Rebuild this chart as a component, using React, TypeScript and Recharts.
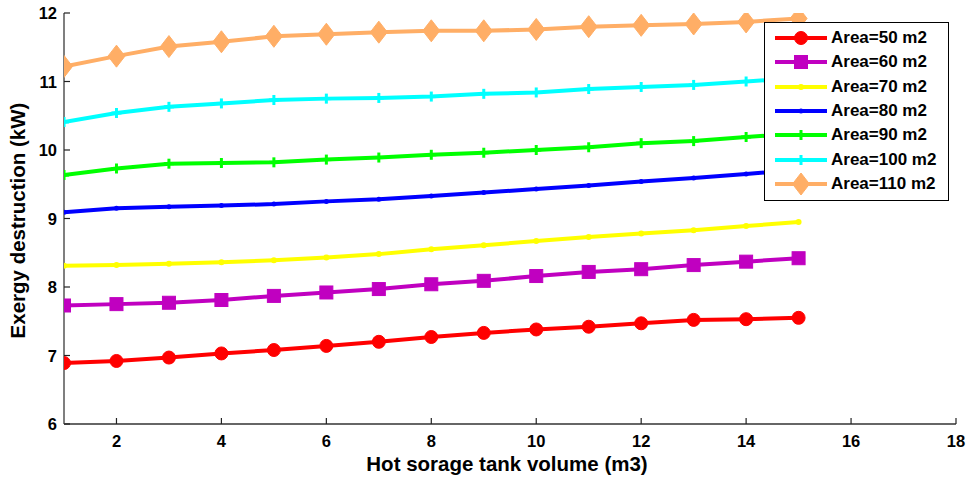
import React from 'react';
import { LineChart, Line, XAxis, YAxis, Legend } from 'recharts';

const volumes = [1, 2, 3, 4, 5, 6, 7, 8, 9, 10, 11, 12, 13, 14, 15];
const area50 = [6.89, 6.92, 6.97, 7.03, 7.08, 7.14, 7.2, 7.27, 7.33, 7.38, 7.42, 7.47, 7.52, 7.53, 7.55];
const area60 = [7.73, 7.75, 7.77, 7.81, 7.87, 7.92, 7.97, 8.04, 8.09, 8.16, 8.22, 8.26, 8.32, 8.37, 8.42];
const area70 = [8.31, 8.32, 8.34, 8.36, 8.39, 8.43, 8.48, 8.55, 8.61, 8.67, 8.73, 8.78, 8.83, 8.89, 8.95];
const area80 = [9.09, 9.15, 9.17, 9.19, 9.21, 9.25, 9.28, 9.33, 9.38, 9.43, 9.48, 9.54, 9.59, 9.65, 9.71];
const area90 = [9.635, 9.73, 9.8, 9.81, 9.82, 9.86, 9.89, 9.93, 9.96, 10.0, 10.04, 10.1, 10.13, 10.19, 10.24];
const area100 = [10.41, 10.54, 10.63, 10.68, 10.73, 10.75, 10.76, 10.78, 10.82, 10.84, 10.89, 10.92, 10.95, 11.0, 11.05];
const area110 = [11.22, 11.37, 11.51, 11.58, 11.66, 11.69, 11.72, 11.74, 11.74, 11.76, 11.8, 11.82, 11.84, 11.87, 11.92];

const xTicks = [2, 4, 6, 8, 10, 12, 14, 16, 18];
const yTicks = [6, 7, 8, 9, 10, 11, 12];

const seriesNames = ['Area=50 m2', 'Area=60 m2', 'Area=70 m2', 'Area=80 m2', 'Area=90 m2', 'Area=100 m2', 'Area=110 m2'];
const seriesKeys = ['a50', 'a60', 'a70', 'a80', 'a90', 'a100', 'a110'];
const seriesValues = [area50, area60, area70, area80, area90, area100, area110];
const seriesColors = ['#FF0000', '#C000C0', '#FFFF00', '#0000FF', '#00FF00', '#00FFFF', '#FFAE66'];
const seriesMarkers = ['circle', 'square', 'dot', 'smalldot', 'plus', 'plus', 'diamond'];

const data = volumes.map((v, i) => {
  const row: any = { x: v };
  seriesKeys.forEach((k, j) => {
    row[k] = seriesValues[j][i];
  });
  return row;
});

const FONT = "'Liberation Sans', Arial, sans-serif";

function Marker({ shape, color, cx, cy }: { shape: string; color: string; cx: number; cy: number }) {
  switch (shape) {
    case 'circle':
      return <circle cx={cx} cy={cy} r={6.5} fill={color} stroke={color} />;
    case 'square':
      return <rect x={cx - 6.5} y={cy - 6.5} width={13} height={13} fill={color} stroke={color} />;
    case 'dot':
      return <circle cx={cx} cy={cy} r={3} fill={color} />;
    case 'smalldot':
      return <circle cx={cx} cy={cy} r={2.5} fill={color} />;
    case 'plus':
      return (
        <g>
          <line x1={cx - 5} x2={cx + 5} y1={cy} y2={cy} stroke={color} strokeWidth={3} />
          <line x1={cx} x2={cx} y1={cy - 5} y2={cy + 5} stroke={color} strokeWidth={3} />
        </g>
      );
    case 'diamond':
      return (
        <polygon
          points={`${cx},${cy - 11} ${cx + 8.5},${cy} ${cx},${cy + 11} ${cx - 8.5},${cy}`}
          fill={color}
          stroke={color}
        />
      );
    default:
      return null;
  }
}

const makeDot = (shape: string, color: string) => (props: any) => {
  const { cx, cy, index } = props;
  if (cx == null || cy == null) return <g key={`d${index}`} />;
  return (
    <g key={`d${index}`}>
      <Marker shape={shape} color={color} cx={cx} cy={cy} />
    </g>
  );
};

const XTick = (props: any) => {
  const { x, y, payload } = props;
  return (
    <g>
      <line x1={x} x2={x} y1={y} y2={y - 6} stroke="#222" strokeWidth={1.2} />
      <text x={x} y={y + 23} textAnchor="middle" fontFamily={FONT} fontWeight="bold" fontSize={16.5} fill="#000">
        {payload.value}
      </text>
    </g>
  );
};

const YTick = (props: any) => {
  const { x, y, payload } = props;
  return (
    <g>
      <line x1={x} x2={x + 6} y1={y} y2={y} stroke="#222" strokeWidth={1.2} />
      <text x={x - 7} y={y + 6} textAnchor="end" fontFamily={FONT} fontWeight="bold" fontSize={16.5} fill="#000">
        {payload.value}
      </text>
    </g>
  );
};

const XTitle = (props: any) => {
  const vb = props.viewBox;
  return (
    <text
      x={vb.x + vb.width / 2 - 3}
      y={vb.y + 47}
      textAnchor="middle"
      fontFamily={FONT}
      fontWeight="bold"
      fontSize={20.5}
      fill="#000"
    >
      Hot sorage tank volume (m3)
    </text>
  );
};

const YTitle = (props: any) => {
  const vb = props.viewBox;
  const x = vb.x + 11;
  const y = vb.y + vb.height / 2 + 2;
  return (
    <text
      x={x}
      y={y}
      transform={`rotate(-90, ${x}, ${y})`}
      textAnchor="middle"
      fontFamily={FONT}
      fontWeight="bold"
      fontSize={20.5}
      fill="#000"
    >
      Exergy destruction (kW)
    </text>
  );
};

const renderLegend = () => (
  <div
    style={{
      border: '1.5px solid #000',
      background: '#fff',
      width: 183,
      height: 174,
      boxSizing: 'content-box',
      paddingTop: 3,
      fontFamily: FONT,
    }}
  >
    {seriesNames.map((name, i) => (
      <div key={name} style={{ display: 'flex', alignItems: 'center', height: 24.3 }}>
        <svg width={66} height={24} style={{ display: 'block' }}>
          <line x1={10} x2={62} y1={12} y2={12} stroke={seriesColors[i]} strokeWidth={4} />
          <Marker shape={seriesMarkers[i]} color={seriesColors[i]} cx={36} cy={12} />
        </svg>
        <span style={{ fontWeight: 'bold', fontSize: 17, color: '#000', whiteSpace: 'nowrap' }}>{name}</span>
      </div>
    ))}
  </div>
);

export default function App() {
  return (
    <div style={{ position: 'absolute', left: 0, top: 0, width: 966, height: 479, background: '#fff' }}>
      <LineChart width={966} height={479} data={data} margin={{ top: 13, right: 10, left: 14, bottom: 15 }}>
        <XAxis
          dataKey="x"
          type="number"
          domain={[1, 18]}
          ticks={xTicks}
          allowDataOverflow
          tickSize={0}
          tickMargin={0}
          tickLine={false}
          tick={<XTick />}
          height={40}
          axisLine={{ stroke: '#333', strokeWidth: 1.5 }}
          label={<XTitle />}
        />
        <YAxis
          type="number"
          domain={[6, 12]}
          ticks={yTicks}
          allowDataOverflow
          tickSize={0}
          tickMargin={0}
          tickLine={false}
          tick={<YTick />}
          width={50}
          axisLine={{ stroke: '#555', strokeWidth: 1.5 }}
          label={<YTitle />}
        />
        {seriesKeys.map((k, i) => (
          <Line
            key={k}
            dataKey={k}
            name={seriesNames[i]}
            stroke={seriesColors[i]}
            strokeWidth={4}
            isAnimationActive={false}
            dot={makeDot(seriesMarkers[i], seriesColors[i])}
            activeDot={false}
          />
        ))}
        <Legend
          layout="vertical"
          align="center"
          verticalAlign="middle"
          content={renderLegend}
          wrapperStyle={{ position: 'absolute', left: 764, top: 22, width: 186, height: 177 }}
        />
      </LineChart>
    </div>
  );
}
